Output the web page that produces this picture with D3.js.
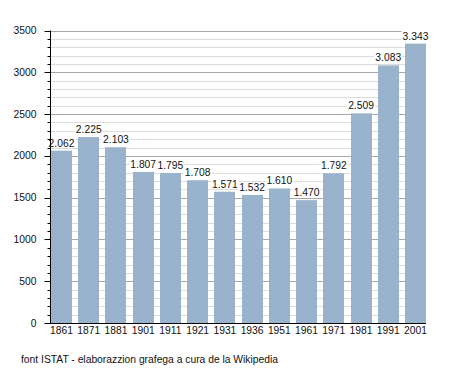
<!DOCTYPE html>
<html>
<head>
<meta charset="utf-8">
<script src="https://cdn.jsdelivr.net/npm/d3@7"></script>
<style>
  body { margin: 0; background: #fff; }
  text { font-family: "Liberation Sans", Arial, sans-serif; fill: #111; font-size: 10.3px; }
</style>
</head>
<body>
<div id="chart"></div>
<script>
const years = ["1861", "1871", "1881", "1901", "1911", "1921", "1931", "1936", "1951", "1961", "1971", "1981", "1991", "2001"];
const population = [2062, 2225, 2103, 1807, 1795, 1708, 1571, 1532, 1610, 1470, 1792, 2509, 3083, 3343];
const yTicks = [0, 500, 1000, 1500, 2000, 2500, 3000, 3500];
const footer = "font ISTAT - elaborazzion grafega a cura de la Wikipedia";

const width = 455, height = 373;
const plot = { left: 50, right: 427, top: 30.5, bottom: 323 };

const svg = d3
  .select("#chart")
  .append("svg")
  .attr("width", width)
  .attr("height", height);

const x = d3.scaleBand()
  .domain(years)
  .range([plot.left, plot.right])
  .paddingInner(0.229)
  .paddingOuter(0.037);

const y = d3.scaleLinear().domain([0, 3500]).range([plot.bottom, plot.top]);

// gridlines every 100, darker every 500
const minor = d3.range(100, 3501, 100);
svg.append("g")
  .selectAll("line")
  .data(minor)
  .join("line")
  .attr("x1", plot.left)
  .attr("x2", plot.right - 1)
  .attr("y1", d => Math.round(y(d)) + 0.5)
  .attr("y2", d => Math.round(y(d)) + 0.5)
  .attr("stroke", d => d % 500 === 0 ? "#a8a8a8" : "#dcdcdc")
  .attr("stroke-width", 1);

// bars
svg.append("g")
  .selectAll("rect")
  .data(population)
  .join("rect")
  .attr("x", (d, i) => Math.round(x(years[i])))
  .attr("y", d => y(d))
  .attr("width", Math.round(x.bandwidth()))
  .attr("height", d => plot.bottom - y(d))
  .attr("fill", "#99b3cc");

// value labels
const fmt = d => d3.format(",")(d).replace(",", ".");
const labels = svg.append("g")
  .selectAll("g")
  .data(population)
  .join("g")
  .attr("transform", (d, i) => `translate(${x(years[i]) + x.bandwidth() / 2}, ${y(d) - 4})`);
labels.append("rect")
  .attr("x", -14)
  .attr("y", -9)
  .attr("width", 28)
  .attr("height", 10)
  .attr("fill", "#fff");
labels.append("text")
  .attr("text-anchor", "middle")
  .text(d => fmt(d));

// y axis
const yAxis = svg.append("g").attr("transform", `translate(${plot.left + 0.5},0)`);
yAxis.append("line")
  .attr("y1", plot.top).attr("y2", plot.bottom + 0.5)
  .attr("stroke", "#000");
yAxis.selectAll(".mt")
  .data(minor.concat([0]))
  .join("line")
  .attr("x1", d => d % 500 === 0 ? -6 : -3)
  .attr("x2", 0)
  .attr("y1", d => Math.round(y(d)) + 0.5)
  .attr("y2", d => Math.round(y(d)) + 0.5)
  .attr("stroke", "#000");
yAxis.selectAll("text")
  .data(yTicks)
  .join("text")
  .attr("x", -14)
  .attr("y", d => y(d))
  .attr("dy", "0.34em")
  .attr("text-anchor", "end")
  .text(d => d);

// x axis
svg.append("line")
  .attr("x1", plot.left).attr("x2", plot.right - 1)
  .attr("y1", plot.bottom + 0.5).attr("y2", plot.bottom + 0.5)
  .attr("stroke", "#000");
svg.append("g")
  .selectAll("text")
  .data(years)
  .join("text")
  .attr("x", d => x(d) + x.bandwidth() / 2)
  .attr("y", 334)
  .attr("text-anchor", "middle")
  .text(d => d);

svg.append("text")
  .attr("x", 21)
  .attr("y", 363)
  .text(footer);
</script>
</body>
</html>
